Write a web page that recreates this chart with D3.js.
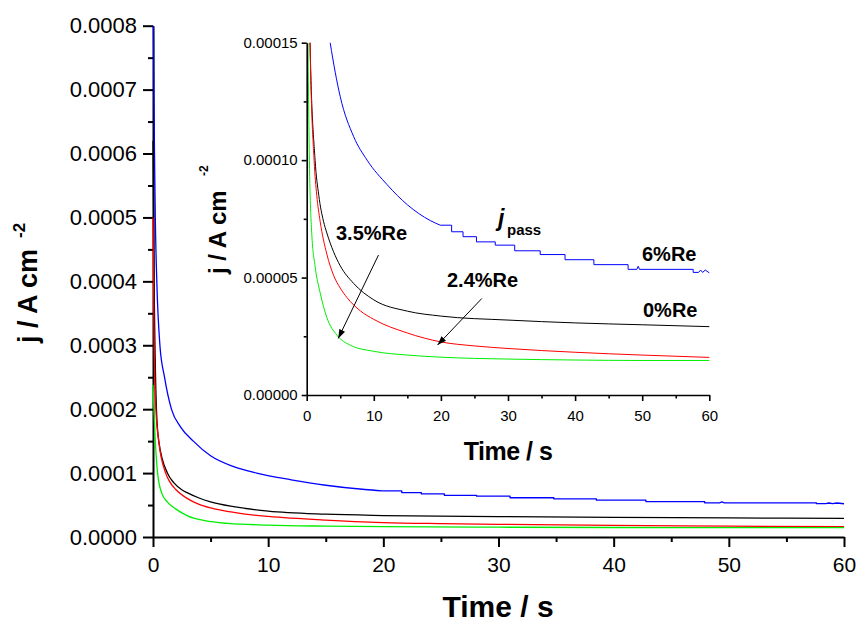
<!DOCTYPE html>
<html>
<head>
<meta charset="utf-8">
<script src="https://cdn.jsdelivr.net/npm/d3@7"></script>
<style>
  html, body { margin: 0; padding: 0; background: #fff; }
  svg { display: block; font-family: "Liberation Sans", Arial, sans-serif; }
</style>
</head>
<body>
<svg id="chart" width="857" height="622"></svg>
<script>
// ---------- data (time in s, current density in A cm^-2) ----------
// 6%Re: smooth decay, then the quantised (stair-stepped) tail
const blue6ReDecay = [
  [0.03, 0.00082], [0.08, 0.0007], [0.13, 0.0006], [0.2, 0.0005], [0.33, 0.0004],
  [0.6, 0.0003], [1.0, 0.00025], [1.6, 0.0002], [2.4, 0.000172], [3.5, 0.00015],
  [5, 0.000127], [7, 0.00011], [9, 0.0001], [12, 0.0000895], [15, 0.000081],
  [18.4, 0.0000743], [19.9, 0.0000723]
];
const blue6ReSteps = [
  [19.9, 0.0000723], [21.6, 0.0000723], [21.6, 0.0000695],
  [23.3, 0.0000695], [23.3, 0.0000674], [25.3, 0.0000674], [25.3, 0.0000652],
  [28.1, 0.0000652], [28.1, 0.0000638], [31.0, 0.0000638], [31.0, 0.0000614],
  [34.8, 0.0000614], [34.8, 0.0000598], [38.5, 0.0000598], [38.5, 0.0000576],
  [42.8, 0.0000576], [42.8, 0.0000555], [47.9, 0.0000555], [47.9, 0.0000535],
  [49.2, 0.0000535], [49.4, 0.0000548], [49.6, 0.0000535], [57.6, 0.0000535],
  [57.6, 0.0000522], [58.4, 0.0000522], [58.7, 0.0000532], [59.0, 0.0000522],
  [59.4, 0.0000532], [60, 0.000052]
];
const black0Re = [
  [0, 0.00062], [0.1, 0.0004], [0.3, 0.0002], [0.5, 0.00015], [1.25, 0.0001],
  [1.8, 0.000085], [2.5, 0.000074], [3, 0.000069], [4, 0.000061], [5, 0.000055],
  [7, 0.0000475], [10, 0.0000405], [15, 0.0000357], [20, 0.0000336], [30, 0.0000319],
  [40, 0.0000307], [50, 0.0000299], [60, 0.0000291]
];
const red24Re = [
  [0, 0.0005], [0.05, 0.0004], [0.1, 0.0003], [0.25, 0.0002], [0.5, 0.00015],
  [1.1, 0.0001], [1.5, 0.000085], [2, 0.000074], [3, 0.00006], [4, 0.000051],
  [5, 0.0000455], [6, 0.0000415], [8, 0.0000358], [10, 0.0000322], [15, 0.0000264],
  [20, 0.0000226], [25, 0.0000209], [30, 0.0000198], [40, 0.0000182], [50, 0.000017],
  [60, 0.000016]
];
const green35Re = [
  [0, 0.000238], [0.08, 0.0002], [0.2, 0.00015], [0.4, 0.0001], [0.75, 0.000069],
  [1.24, 0.000055], [2, 0.0000436], [3, 0.000033], [4.5, 0.0000255], [6.5, 0.0000212],
  [10, 0.0000186], [15, 0.000017], [20, 0.0000161], [30, 0.0000153], [40, 0.0000149],
  [50, 0.0000147], [60, 0.0000147]
];
const seriesNames = ["6%Re", "0%Re", "2.4%Re", "3.5%Re"];
const seriesColors = ["#0000ff", "#000000", "#ff0000", "#00ee00"];

const mainXTicks = [0, 10, 20, 30, 40, 50, 60];
const mainXMinor = [5, 15, 25, 35, 45, 55];
const mainYTicks = [0, 0.0001, 0.0002, 0.0003, 0.0004, 0.0005, 0.0006, 0.0007, 0.0008];
const mainYMinor = [0.00005, 0.00015, 0.00025, 0.00035, 0.00045, 0.00055, 0.00065, 0.00075];
const insetYTicks = [0, 0.00005, 0.0001, 0.00015];
const insetYMinor = [0.000025, 0.000075, 0.000125];

// arrows in inset data coordinates: [from, to]
const arrows = [
  [[10.7, 0.0000596], [4.7, 0.0000241]],
  [[26.1, 0.0000411], [19.5, 0.0000213]]
];

// line pieces: [data, colour index, smooth?]
const pieces = [
  [blue6ReDecay, 0, true], [blue6ReSteps, 0, false],
  [black0Re, 1, true], [red24Re, 2, true], [green35Re, 3, true]
];

// ---------- drawing ----------
const svg = d3.select("#chart");
const FONT = '"Liberation Sans", Arial, sans-serif';

svg.append("defs").append("marker")
  .attr("id", "arrowhead").attr("viewBox", "0 0 10 10")
  .attr("refX", 10).attr("refY", 5)
  .attr("markerWidth", 9).attr("markerHeight", 9)
  .attr("markerUnits", "userSpaceOnUse")
  .attr("orient", "auto")
  .append("path").attr("d", "M0,1.5 L10,5 L0,8.5 Z").attr("fill", "#000");

function styleAxis(g, width, fontSize) {
  g.select(".domain").attr("stroke-width", width);
  g.selectAll(".tick line").attr("stroke-width", width);
  g.selectAll("text").attr("font-size", fontSize).attr("font-family", FONT).attr("fill", "#000");
}

function drawLines(g, x, y, width) {
  const smooth = d3.line().x(d => x(d[0])).y(d => y(d[1])).curve(d3.curveMonotoneX);
  const straight = d3.line().x(d => x(d[0])).y(d => y(d[1]));
  pieces.forEach(p => {
    g.append("path").datum(p[0])
      .attr("d", p[2] ? smooth : straight).attr("fill", "none")
      .attr("stroke", seriesColors[p[1]]).attr("stroke-width", width)
      .attr("stroke-linejoin", "round");
  });
}

// main scales
const mx = d3.scaleLinear().domain([0, 60]).range([153, 844]);
const my = d3.scaleLinear().domain([0, 0.0008]).range([537, 25.7]);

svg.append("clipPath").attr("id", "mainClip").append("rect")
  .attr("x", 152).attr("y", 25.7).attr("width", 844 - 152).attr("height", 537 - 25.7);

// main axes
const gMX = svg.append("g").attr("transform", "translate(0,537)")
  .call(d3.axisBottom(mx).tickValues(mainXTicks).tickSize(10).tickSizeOuter(0).tickPadding(10).tickFormat(d3.format("d")));
styleAxis(gMX, 2, 21);
const gMXm = svg.append("g").attr("transform", "translate(0,537)")
  .call(d3.axisBottom(mx).tickValues(mainXMinor).tickSize(5).tickSizeOuter(0).tickFormat(""));
gMXm.select(".domain").remove();
gMXm.selectAll(".tick line").attr("stroke-width", 2);

const gMY = svg.append("g").attr("transform", "translate(153,0)")
  .call(d3.axisLeft(my).tickValues(mainYTicks).tickSize(10).tickSizeOuter(0).tickPadding(6).tickFormat(d3.format(".4f")));
styleAxis(gMY, 2, 22);
const gMYm = svg.append("g").attr("transform", "translate(153,0)")
  .call(d3.axisLeft(my).tickValues(mainYMinor).tickSize(5).tickSizeOuter(0).tickFormat(""));
gMYm.select(".domain").remove();
gMYm.selectAll(".tick line").attr("stroke-width", 2);

drawLines(svg.append("g").attr("clip-path", "url(#mainClip)"), mx, my, 1.3);

// main axis titles
svg.append("text").attr("x", 498).attr("y", 617).attr("text-anchor", "middle")
  .attr("font-size", 30).attr("font-weight", "bold").attr("font-family", FONT)
  .text("Time / s");
svg.append("text").attr("transform", "translate(37,343) rotate(-90)")
  .attr("font-size", 27).attr("font-weight", "bold").attr("font-family", FONT)
  .text("j / A cm");
svg.append("text").attr("transform", "translate(25,238) rotate(-90)")
  .attr("font-size", 17).attr("font-weight", "bold").attr("font-family", FONT)
  .text("-2");

// ---------- inset ----------
const ix = d3.scaleLinear().domain([0, 60]).range([306.7, 709.3]);
const iy = d3.scaleLinear().domain([0, 0.00015]).range([395, 42.7]);

svg.append("clipPath").attr("id", "insetClip").append("rect")
  .attr("x", 306).attr("y", 42.7).attr("width", 709.3 - 306 + 1).attr("height", 395 - 42.7);

drawLines(svg.append("g").attr("clip-path", "url(#insetClip)"), ix, iy, 1);

const gIX = svg.append("g").attr("transform", "translate(0,395)")
  .call(d3.axisBottom(ix).tickValues(mainXTicks).tickSize(6).tickSizeOuter(0).tickPadding(9).tickFormat(d3.format("d")));
styleAxis(gIX, 1.6, 15);
const gIXm = svg.append("g").attr("transform", "translate(0,395)")
  .call(d3.axisBottom(ix).tickValues(mainXMinor).tickSize(3.5).tickSizeOuter(0).tickFormat(""));
gIXm.select(".domain").remove();
gIXm.selectAll(".tick line").attr("stroke-width", 1.6);

const gIY = svg.append("g").attr("transform", "translate(306.7,0)")
  .call(d3.axisLeft(iy).tickValues(insetYTicks).tickSize(5).tickSizeOuter(0).tickPadding(4).tickFormat(d3.format(".5f")));
styleAxis(gIY, 1.6, 15);
const gIYm = svg.append("g").attr("transform", "translate(306.7,0)")
  .call(d3.axisLeft(iy).tickValues(insetYMinor).tickSize(3).tickSizeOuter(0).tickFormat(""));
gIYm.select(".domain").remove();
gIYm.selectAll(".tick line").attr("stroke-width", 1.6);

// inset titles
svg.append("text").attr("x", 508).attr("y", 460).attr("text-anchor", "middle")
  .attr("font-size", 25).attr("font-weight", "bold").attr("font-family", FONT)
  .attr("letter-spacing", "-0.5").text("Time / s");
svg.append("text").attr("transform", "translate(226,274) rotate(-90)")
  .attr("font-size", 24).attr("font-weight", "bold").attr("font-family", FONT)
  .text("j / A cm");
svg.append("text").attr("transform", "translate(208,176) rotate(-90)")
  .attr("font-size", 12).attr("font-weight", "bold").attr("font-family", FONT)
  .text("-2");

// annotations
const labelPos = [[642, 261], [643, 317], [447, 287], [336, 240]];
seriesNames.forEach((name, i) => {
  svg.append("text").attr("x", labelPos[i][0]).attr("y", labelPos[i][1])
    .attr("font-size", 20).attr("font-weight", "bold").attr("font-family", FONT)
    .text(name);
});
svg.append("text").attr("x", 498).attr("y", 226)
  .attr("font-size", 23).attr("font-weight", "bold").attr("font-style", "italic").attr("font-family", FONT)
  .text("j");
svg.append("text").attr("x", 507).attr("y", 235)
  .attr("font-size", 15).attr("font-weight", "bold").attr("font-family", FONT)
  .text("pass");

arrows.forEach(a => {
  svg.append("line")
    .attr("x1", ix(a[0][0])).attr("y1", iy(a[0][1]))
    .attr("x2", ix(a[1][0])).attr("y2", iy(a[1][1]))
    .attr("stroke", "#000").attr("stroke-width", 1)
    .attr("marker-end", "url(#arrowhead)");
});
</script>
</body>
</html>
